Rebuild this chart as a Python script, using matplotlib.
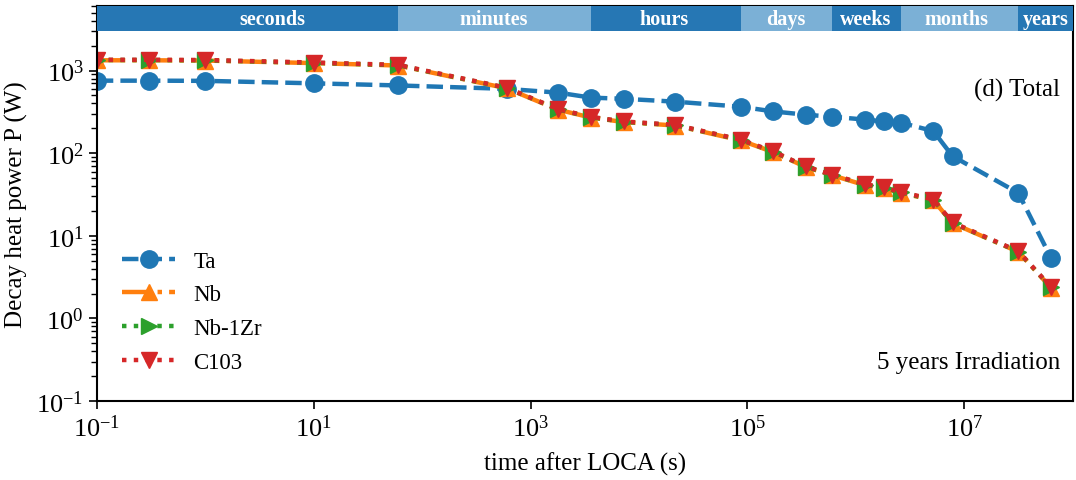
import numpy as np
import matplotlib
matplotlib.use("Agg")
import matplotlib.pyplot as plt
import matplotlib.transforms as mtransforms

plt.rcParams.update({"font.family": "Liberation Serif", "mathtext.fontset": "stix",
                     "font.size": 17, "xtick.direction": "out", "ytick.direction": "out"})

# time after LOCA (s)
t = [0.1, 0.3, 1, 10, 60, 600, 1800, 3600, 7200, 21600, 86400, 172800, 345600,
     604800, 1.21e6, 1.81e6, 2.59e6, 5.18e6, 7.78e6, 3.15e7, 6.3e7]
P_Ta = [754, 754, 750, 700, 660, 600, 540, 470, 455, 420, 365, 320, 292,
        276, 255, 242, 234, 185, 92, 33, 5.4]
P_Nb = [1330, 1330, 1320, 1230, 1150, 610, 335, 270, 238, 216, 143, 103, 68,
        54, 41, 37.5, 33, 27, 14.2, 6.4, 2.35]
P_Nb1Zr = [1340, 1340, 1330, 1240, 1160, 615, 338, 272, 240, 218, 145, 104, 68.5,
           54.5, 41.5, 38, 33.5, 27.2, 14.3, 6.45, 2.38]
P_C103 = [1350, 1350, 1340, 1250, 1170, 620, 340, 275, 242, 220, 146, 105, 69,
          55, 42, 38.5, 34, 27.5, 14.5, 6.5, 2.4]

# time-scale band along the top
band_edges = [0.1, 60, 3600, 86400, 604800, 2.592e6, 3.154e7, 1e8]
band_labels = ["seconds", "minutes", "hours", "days", "weeks", "months", "years"]
band_text_x = [4.2, 460, 1.7e4, 2.25e5, 1.24e6, 8.5e6, 5.6e7]
band_colors = ["#2677b4", "#7bb0d6"]

fig = plt.figure(figsize=(10.76, 4.81), dpi=100)
ax = fig.add_axes([0.090, 0.164, 0.907, 0.821])

ax.plot(t, P_Ta, ls='--', marker='o', color='C0', lw=3.2, ms=12.5, label='Ta')
ax.plot(t, P_Nb, ls='-.', marker='^', color='C1', lw=3.2, ms=12, label='Nb')
ax.plot(t, P_Nb1Zr, ls=':', marker='>', color='C2', lw=3.2, ms=12, label='Nb-1Zr')
ax.plot(t, P_C103, ls=':', marker='v', color='C3', lw=3.2, ms=12, label='C103')

ax.set_xscale('log'); ax.set_yscale('log')
ax.set_xlim(0.1, 1e8); ax.set_ylim(0.1, 6000)
ax.set_xticks([1e-1, 1e1, 1e3, 1e5, 1e7])
ax.xaxis.set_minor_locator(matplotlib.ticker.NullLocator())
ax.set_yticks([1e-1, 1e0, 1e1, 1e2, 1e3])
ax.tick_params(which='major', length=6, width=1.2, labelsize=19)
ax.tick_params(which='minor', length=4, width=1)
for s in ax.spines.values():
    s.set_linewidth(1.5)

trans = mtransforms.blended_transform_factory(ax.transData, ax.transAxes)
for i, lab in enumerate(band_labels):
    x0, x1 = band_edges[i], band_edges[i + 1]
    ax.axvspan(x0, x1, ymin=0.937, ymax=1.0, color=band_colors[i % 2], lw=0, zorder=3)
    ax.text(band_text_x[i], 0.968, lab, transform=trans, ha='center', va='center',
            color='white', fontweight='bold', fontsize=14.5, zorder=4)

ax.text(0.987, 0.79, '(d) Total', transform=ax.transAxes, ha='right', va='center', fontsize=18)
ax.text(0.987, 0.10, '5 years Irradiation', transform=ax.transAxes, ha='right', va='center', fontsize=18)

ax.set_xlabel('time after LOCA (s)', fontsize=18, labelpad=8)
ax.set_ylabel('Decay heat power P (W)', fontsize=18, labelpad=6)
ax.legend(loc='lower left', frameon=False, numpoints=1, handlelength=2.3, handletextpad=0.8,
          fontsize=16.5, bbox_to_anchor=(0.005, 0.02), labelspacing=0.55)

fig.savefig("out.png", dpi=100)
